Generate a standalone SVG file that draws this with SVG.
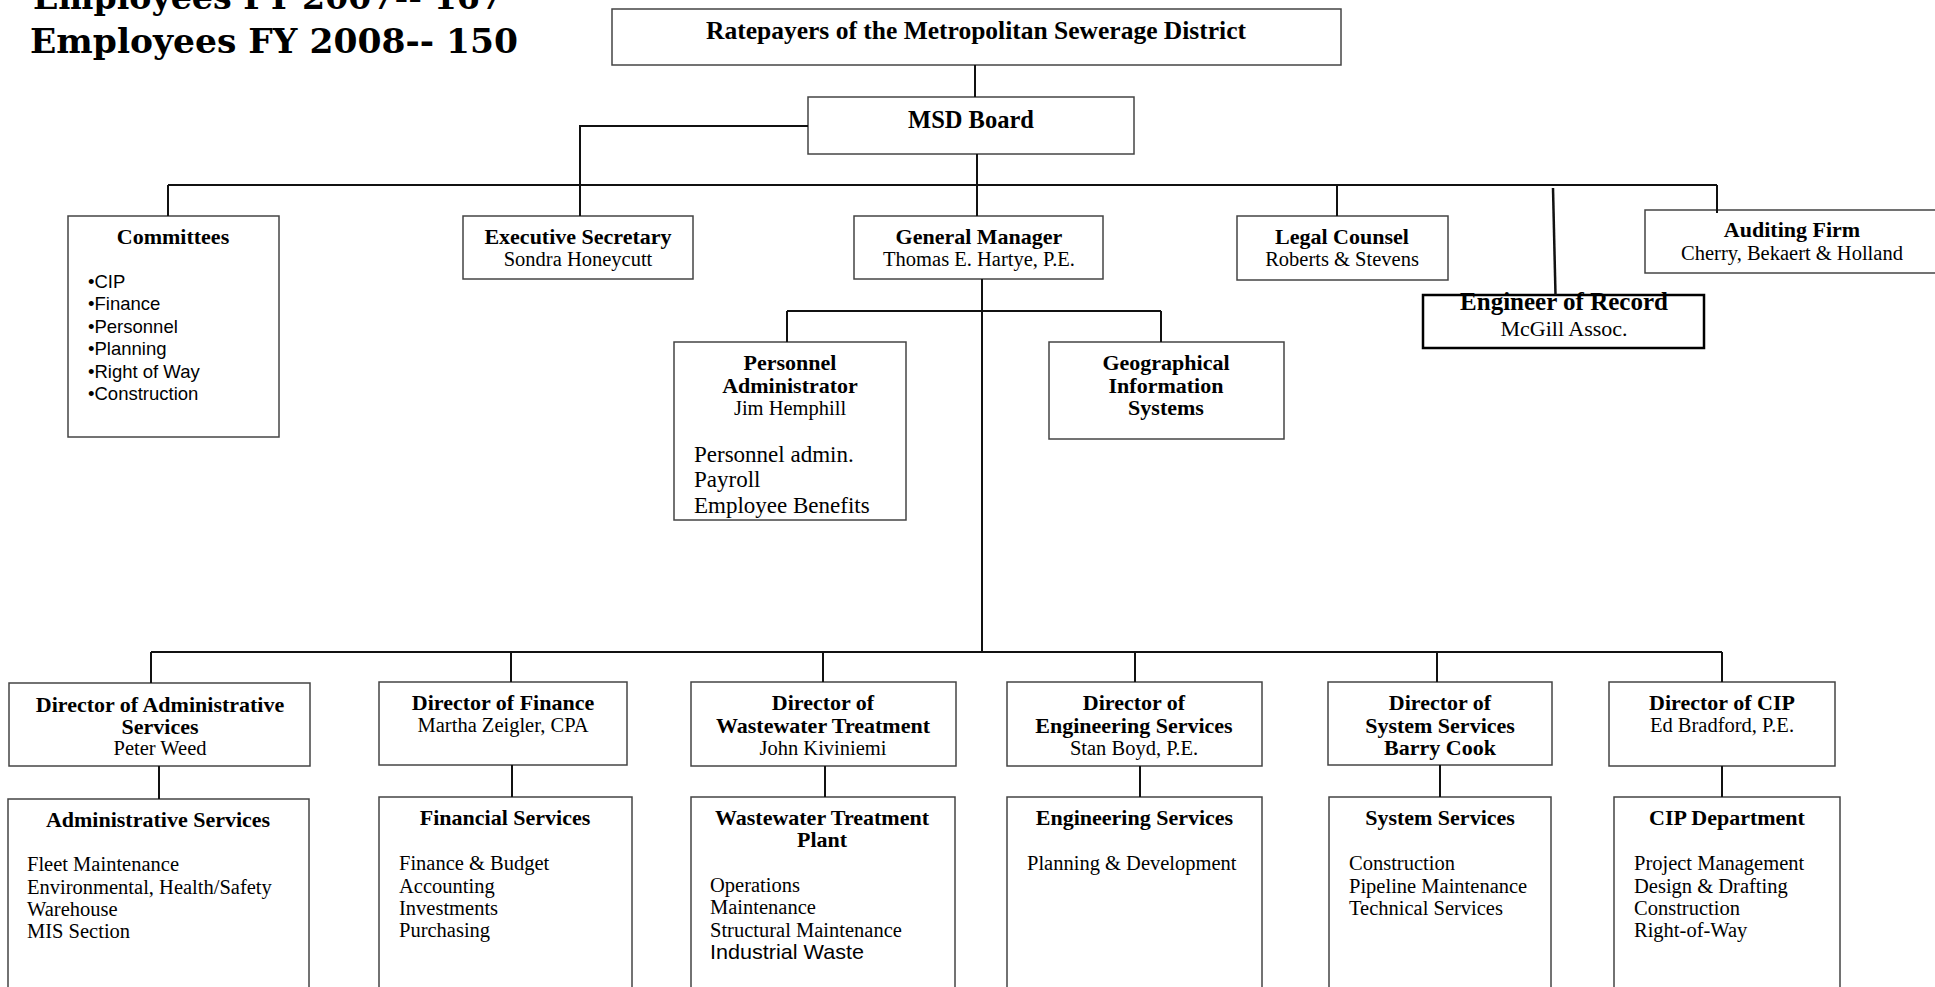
<svg xmlns="http://www.w3.org/2000/svg" width="1935" height="987" viewBox="0 0 1935 987">
<style>
.bg{fill:#fff}
.box{fill:#fff;stroke:#444;stroke-width:1.5}
.bx2{fill:#fff;stroke:#000;stroke-width:2.5}
.ln{fill:none;stroke:#111;stroke-width:2}
.t{font-family:"Liberation Serif","Times New Roman",serif;fill:#000}
.b{font-weight:bold;font-size:22px}
.r{font-size:20.5px}
.c{text-anchor:middle}
.s{font-family:"Liberation Sans",Arial,sans-serif;fill:#000}
.ttl{font-family:"DejaVu Serif",serif;font-weight:bold;font-size:33px;fill:#000}
</style>
<rect class="bg" x="0" y="0" width="1935" height="987"/>

<g id="title">
<text class="ttl" x="33" y="9" textLength="470" lengthAdjust="spacingAndGlyphs">Employees FY 2007-- 167</text>
<text class="ttl" x="30" y="53" textLength="488" lengthAdjust="spacingAndGlyphs">Employees FY 2008-- 150</text>
</g>

<g id="ratepayers">
<rect class="box" x="612" y="9" width="729" height="56"/>
<text class="t b c" x="976" y="39" style="font-size:25px" textLength="540" lengthAdjust="spacingAndGlyphs">Ratepayers of the Metropolitan Sewerage District</text>
</g>

<g id="msd-board">
<rect class="box" x="808" y="97" width="326" height="57"/>
<text class="t b c" x="971" y="128" style="font-size:24.5px">MSD Board</text>
</g>

<g id="committees">
<rect class="box" x="68" y="216" width="211" height="221"/>
<text class="t b c" x="173" y="244">Committees</text>
<text class="s" x="88" y="288" font-size="18.5">•CIP</text>
<text class="s" x="88" y="310.4" font-size="18.5">•Finance</text>
<text class="s" x="88" y="332.8" font-size="18.5">•Personnel</text>
<text class="s" x="88" y="355.2" font-size="18.5">•Planning</text>
<text class="s" x="88" y="377.6" font-size="18.5">•Right of Way</text>
<text class="s" x="88" y="400" font-size="18.5">•Construction</text>
</g>

<g id="exec-secretary">
<rect class="box" x="463" y="216" width="230" height="63"/>
<text class="t b c" x="578" y="244">Executive Secretary</text>
<text class="t r c" x="578" y="266">Sondra Honeycutt</text>
</g>

<g id="general-manager">
<rect class="box" x="854" y="216" width="249" height="63"/>
<text class="t b c" x="979" y="244">General Manager</text>
<text class="t r c" x="979" y="266">Thomas E. Hartye, P.E.</text>
</g>

<g id="legal-counsel">
<rect class="box" x="1237" y="216" width="211" height="64"/>
<text class="t b c" x="1342" y="244">Legal Counsel</text>
<text class="t r c" x="1342" y="266">Roberts &amp; Stevens</text>
</g>

<g id="auditing-firm">
<rect class="box" x="1645" y="210" width="320" height="63"/>
<text class="t b c" x="1792" y="237">Auditing Firm</text>
<text class="t r c" x="1792" y="260">Cherry, Bekaert &amp; Holland</text>
</g>

<g id="engineer-of-record">
<rect class="bx2" x="1423" y="295" width="281" height="53"/>
<text class="t b c" x="1564" y="310" style="font-size:25px">Engineer of Record</text>
<text class="t c" x="1564" y="336" font-size="22">McGill Assoc.</text>
</g>

<g id="personnel-admin">
<rect class="box" x="674" y="342" width="232" height="178"/>
<text class="t b c" x="790" y="370">Personnel</text>
<text class="t b c" x="790" y="393">Administrator</text>
<text class="t r c" x="790" y="415">Jim Hemphill</text>
<text class="t" x="694" y="462" font-size="23">Personnel admin.</text>
<text class="t" x="694" y="487" font-size="23">Payroll</text>
<text class="t" x="694" y="513" font-size="23">Employee Benefits</text>
</g>

<g id="gis">
<rect class="box" x="1049" y="342" width="235" height="97"/>
<text class="t b c" x="1166" y="370">Geographical</text>
<text class="t b c" x="1166" y="393">Information</text>
<text class="t b c" x="1166" y="415">Systems</text>
</g>

<g id="dir-admin">
<rect class="box" x="9" y="683" width="301" height="83"/>
<text class="t b c" x="160" y="712">Director of Administrative</text>
<text class="t b c" x="160" y="734">Services</text>
<text class="t r c" x="160" y="755">Peter Weed</text>
</g>

<g id="dir-finance">
<rect class="box" x="379" y="682" width="248" height="83"/>
<text class="t b c" x="503" y="710">Director of Finance</text>
<text class="t r c" x="503" y="732">Martha Zeigler, CPA</text>
</g>

<g id="dir-wastewater">
<rect class="box" x="691" y="682" width="265" height="84"/>
<text class="t b c" x="823" y="710">Director of</text>
<text class="t b c" x="823" y="732.5">Wastewater Treatment</text>
<text class="t r c" x="823" y="755">John Kiviniemi</text>
</g>

<g id="dir-engineering">
<rect class="box" x="1007" y="682" width="255" height="84"/>
<text class="t b c" x="1134" y="710">Director of</text>
<text class="t b c" x="1134" y="732.5">Engineering Services</text>
<text class="t r c" x="1134" y="755">Stan Boyd, P.E.</text>
</g>

<g id="dir-system">
<rect class="box" x="1328" y="682" width="224" height="83"/>
<text class="t b c" x="1440" y="710">Director of</text>
<text class="t b c" x="1440" y="732.5">System Services</text>
<text class="t b c" x="1440" y="755">Barry Cook</text>
</g>

<g id="dir-cip">
<rect class="box" x="1609" y="682" width="226" height="84"/>
<text class="t b c" x="1722" y="710">Director of CIP</text>
<text class="t r c" x="1722" y="732">Ed Bradford, P.E.</text>
</g>

<g id="admin-services">
<rect class="box" x="8" y="799" width="301" height="200"/>
<text class="t b c" x="158" y="827">Administrative Services</text>
<text class="t r" x="27" y="871">Fleet Maintenance</text>
<text class="t r" x="27" y="893.5">Environmental, Health/Safety</text>
<text class="t r" x="27" y="916">Warehouse</text>
<text class="t r" x="27" y="938">MIS Section</text>
</g>

<g id="financial-services">
<rect class="box" x="379" y="797" width="253" height="202"/>
<text class="t b c" x="505" y="825">Financial Services</text>
<text class="t r" x="399" y="870">Finance &amp; Budget</text>
<text class="t r" x="399" y="892.5">Accounting</text>
<text class="t r" x="399" y="915">Investments</text>
<text class="t r" x="399" y="937">Purchasing</text>
</g>

<g id="wwtp">
<rect class="box" x="691" y="797" width="264" height="202"/>
<text class="t b c" x="822" y="825">Wastewater Treatment</text>
<text class="t b c" x="822" y="847">Plant</text>
<text class="t r" x="710" y="892">Operations</text>
<text class="t r" x="710" y="914">Maintenance</text>
<text class="t r" x="710" y="937">Structural Maintenance</text>
<text class="s" x="710" y="959" font-size="21" textLength="154" lengthAdjust="spacingAndGlyphs">Industrial Waste</text>
</g>

<g id="engineering-services">
<rect class="box" x="1007" y="797" width="255" height="202"/>
<text class="t b c" x="1134.5" y="825">Engineering Services</text>
<text class="t r" x="1027" y="870">Planning &amp; Development</text>
</g>

<g id="system-services">
<rect class="box" x="1329" y="797" width="222" height="202"/>
<text class="t b c" x="1440" y="825">System Services</text>
<text class="t r" x="1349" y="870">Construction</text>
<text class="t r" x="1349" y="892.5">Pipeline Maintenance</text>
<text class="t r" x="1349" y="915">Technical Services</text>
</g>

<g id="cip-department">
<rect class="box" x="1614" y="797" width="226" height="202"/>
<text class="t b c" x="1727" y="825">CIP Department</text>
<text class="t r" x="1634" y="870">Project Management</text>
<text class="t r" x="1634" y="892.5">Design &amp; Drafting</text>
<text class="t r" x="1634" y="915">Construction</text>
<text class="t r" x="1634" y="937">Right-of-Way</text>
</g>

<g id="connectors">
<path class="ln" d="M975,65 V97"/>
<path class="ln" d="M808,126 H580 V216"/>
<path class="ln" d="M977,154 V216"/>
<path class="ln" d="M168,185 H1717"/>
<path class="ln" d="M168,185 V216"/>
<path class="ln" d="M1337,185 V216"/>
<path class="ln" d="M1717,185 V213"/>
<path class="ln" d="M1553,188 L1555.5,295" style="stroke-width:2.5"/>
<path class="ln" d="M982,279 V652"/>
<path class="ln" d="M787,311 H1161"/>
<path class="ln" d="M787,311 V342"/>
<path class="ln" d="M1161,311 V342"/>
<path class="ln" d="M151,652 H1722"/>
<path class="ln" d="M151,652 V683"/>
<path class="ln" d="M511,652 V682"/>
<path class="ln" d="M823,652 V682"/>
<path class="ln" d="M1135,652 V682"/>
<path class="ln" d="M1437,652 V682"/>
<path class="ln" d="M1722,652 V682"/>
<path class="ln" d="M159,766 V799"/>
<path class="ln" d="M512,765 V797"/>
<path class="ln" d="M825,766 V797"/>
<path class="ln" d="M1140,766 V797"/>
<path class="ln" d="M1440,765 V797"/>
<path class="ln" d="M1722,766 V797"/>
</g>
</svg>
